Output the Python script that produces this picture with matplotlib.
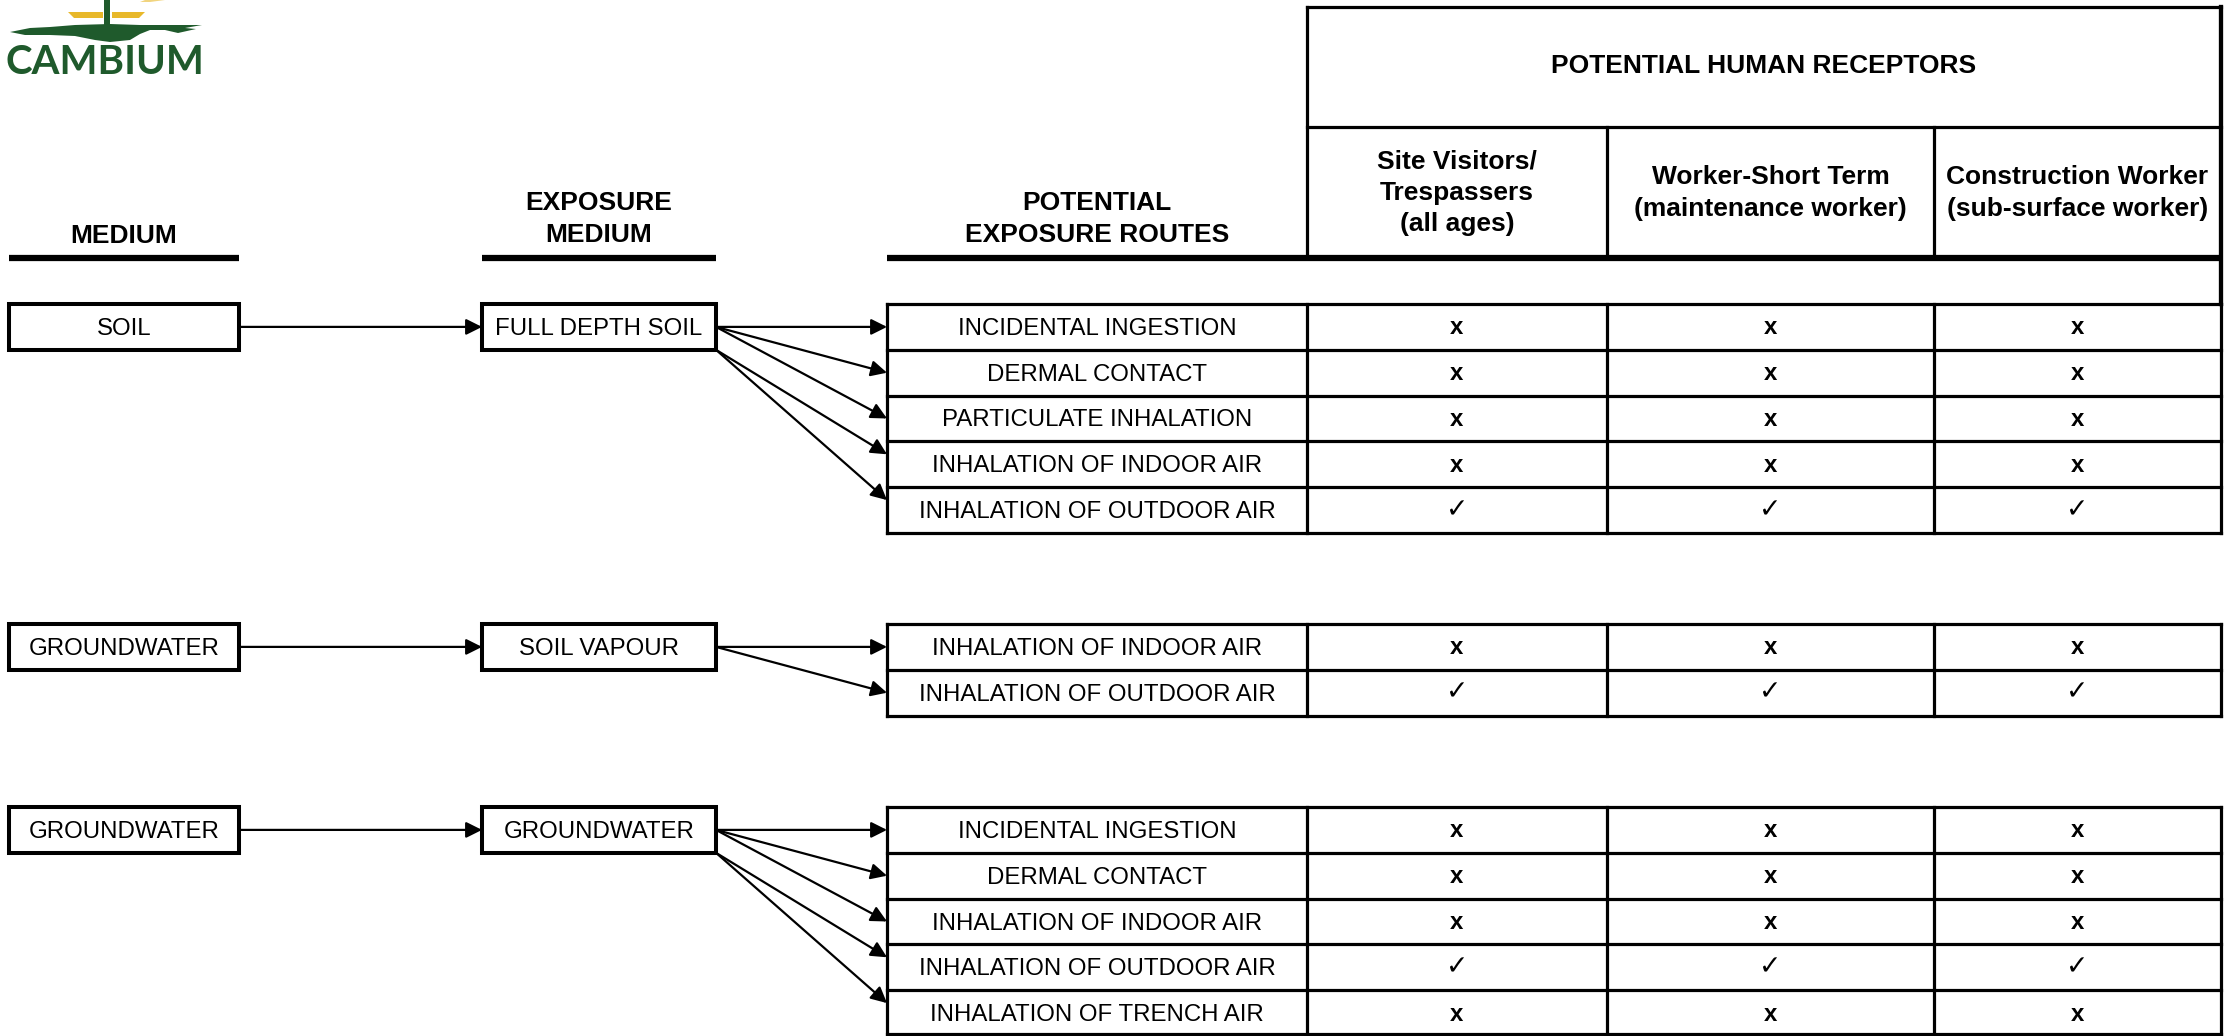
import matplotlib
matplotlib.use("Agg")
import matplotlib.pyplot as plt
from matplotlib.patches import Rectangle, Polygon

# ---------------- data ----------------
media = ["SOIL", "GROUNDWATER", "GROUNDWATER"]
exposure_media = ["FULL DEPTH SOIL", "SOIL VAPOUR", "GROUNDWATER"]
routes = [
    ["INCIDENTAL INGESTION", "DERMAL CONTACT", "PARTICULATE INHALATION",
     "INHALATION OF INDOOR AIR", "INHALATION OF OUTDOOR AIR"],
    ["INHALATION OF INDOOR AIR", "INHALATION OF OUTDOOR AIR"],
    ["INCIDENTAL INGESTION", "DERMAL CONTACT", "INHALATION OF INDOOR AIR",
     "INHALATION OF OUTDOOR AIR", "INHALATION OF TRENCH AIR"],
]
receptors = ["Site Visitors/\nTrespassers\n(all ages)",
             "Worker-Short Term\n(maintenance worker)",
             "Construction Worker\n(sub-surface worker)"]
# status per group / route / receptor : "x" = incomplete, "✓" = complete pathway
status = [
    [["x", "x", "x"], ["x", "x", "x"], ["x", "x", "x"], ["x", "x", "x"], ["✓", "✓", "✓"]],
    [["x", "x", "x"], ["✓", "✓", "✓"]],
    [["x", "x", "x"], ["x", "x", "x"], ["x", "x", "x"], ["✓", "✓", "✓"], ["x", "x", "x"]],
]
col_headers = ["MEDIUM", "EXPOSURE\nMEDIUM", "POTENTIAL\nEXPOSURE ROUTES"]
receptor_title = "POTENTIAL HUMAN RECEPTORS"

# ---------------- layout (pixels) ----------------
W, H = 2235, 1036
fig = plt.figure(figsize=(W / 100, H / 100), dpi=100)
ax = fig.add_axes([0, 0, 1, 1])
ax.set_xlim(0, W)
ax.set_ylim(H, 0)
ax.axis("off")

FONT = ["Liberation Sans", "DejaVu Sans"]
TXT = 17.3
HDR = 19.0
LW = 2.3
THICK = 4.5
LS = 1.38

med_x = (9, 239)
exp_x = (482, 716)
route_x = (887, 1307)
rec_cols = [1307, 1607, 1934, 2221]
group_top = [304, 624, 807]
row_h = 45.8
header_line_y = 258

# header texts
hdr_centers = [sum(med_x) / 2, sum(exp_x) / 2, sum(route_x) / 2]
hdr_y = [236, 219, 219]
for cx, cy, t in zip(hdr_centers, hdr_y, col_headers):
    ax.text(cx, cy, t, ha="center", va="center", fontsize=HDR, fontweight="bold",
            family=FONT, linespacing=LS)

# thick header underlines
for x0, x1 in [med_x, exp_x, (route_x[0], rec_cols[-1])]:
    ax.plot([x0, x1], [header_line_y, header_line_y], color="black", lw=THICK,
            solid_capstyle="butt")

# receptor header box
ax.plot([rec_cols[0], rec_cols[-1]], [7, 7], color="black", lw=LW, solid_capstyle="projecting")
ax.plot([rec_cols[0], rec_cols[-1]], [127, 127], color="black", lw=LW)
ax.plot([rec_cols[0], rec_cols[0]], [7, header_line_y], color="black", lw=LW)
ax.plot([rec_cols[-1], rec_cols[-1]], [7, group_top[0]], color="black", lw=LW + 0.8)
for cx in rec_cols[1:-1]:
    ax.plot([cx, cx], [127, header_line_y], color="black", lw=LW)
ax.text((rec_cols[0] + rec_cols[-1]) / 2, 66, receptor_title, ha="center", va="center",
        fontsize=HDR, fontweight="bold", family=FONT)
for i, r in enumerate(receptors):
    ax.text((rec_cols[i] + rec_cols[i + 1]) / 2, 193, r, ha="center", va="center",
            fontsize=HDR, fontweight="bold", family=FONT, linespacing=LS)

# groups
for g, top in enumerate(group_top):
    n = len(routes[g])
    yc0 = top + row_h / 2
    # medium box and exposure-medium box
    for (x0, x1), label in [(med_x, media[g]), (exp_x, exposure_media[g])]:
        ax.add_patch(Rectangle((x0, top), x1 - x0, row_h, fill=False, ec="black", lw=LW + 0.6))
        ax.text((x0 + x1) / 2, yc0 + 2, label, ha="center", va="center", fontsize=TXT, family=FONT)
    # arrow medium -> exposure medium
    ax.annotate("", xy=(exp_x[0], yc0), xytext=(med_x[1], yc0),
                arrowprops=dict(arrowstyle="-|>", lw=1.6, color="black",
                                mutation_scale=24, shrinkA=0, shrinkB=0))
    # route table
    bottom = min(top + n * row_h, H - 2)
    for i in range(n + 1):
        y = min(top + i * row_h, H - 2)
        ax.plot([route_x[0], rec_cols[-1]], [y, y], color="black", lw=LW)
    for x in [route_x[0]] + rec_cols:
        ax.plot([x, x], [top, bottom], color="black", lw=LW)
    for i, rt in enumerate(routes[g]):
        yc = top + (i + 0.5) * row_h
        ax.text(sum(route_x) / 2, yc + 2, rt, ha="center", va="center", fontsize=TXT, family=FONT)
        for j, s in enumerate(status[g][i]):
            cx = (rec_cols[j] + rec_cols[j + 1]) / 2
            if s == "x":
                ax.text(cx, yc + 1, s, ha="center", va="center", fontsize=TXT,
                        fontweight="bold", family=FONT)
            else:
                ax.text(cx, yc, s, ha="center", va="center", fontsize=TXT + 2,
                        fontweight="bold", family=["DejaVu Sans"])
        # fan arrows exposure medium -> route
        start_y = yc0 if i < 3 else top + row_h
        tip_y = yc if i < 3 else yc - 10
        ax.annotate("", xy=(route_x[0], tip_y), xytext=(exp_x[1], start_y),
                    arrowprops=dict(arrowstyle="-|>", lw=1.6, color="black",
                                    mutation_scale=24, shrinkA=0, shrinkB=0))

# ---------------- logo ----------------
green = "#1f5a2c"
yellow = "#e8b82a"
ax.add_patch(Polygon([[68, 12], [103, 12], [103, 18], [74, 18]], closed=True, color=yellow, lw=0))
ax.add_patch(Polygon([[112, 12], [145, 12], [139, 18], [112, 18]], closed=True, color=yellow, lw=0))
ax.add_patch(Polygon([[145, 0], [165, 0], [150, 2], [140, 2]], closed=True, color=yellow, lw=0, alpha=0.6))
ax.add_patch(Rectangle((104, 0), 6, 34, color=green, lw=0))
swoosh = [[10, 32], [30, 28], [50, 27], [75, 25], [110, 24], [140, 25], [170, 25], [202, 25],
          [185, 28], [196, 29], [178, 33], [165, 30], [150, 30], [140, 34], [130, 40],
          [110, 42], [95, 40], [75, 36], [50, 35], [25, 35]]
ax.add_patch(Polygon(swoosh, closed=True, color=green, lw=0))
ax.text(105, 62, "CAMBIUM", ha="center", va="center", fontsize=29, fontweight="bold",
        family=["Lato", "DejaVu Sans"], color=green)

fig.savefig("out.png", dpi=100)
